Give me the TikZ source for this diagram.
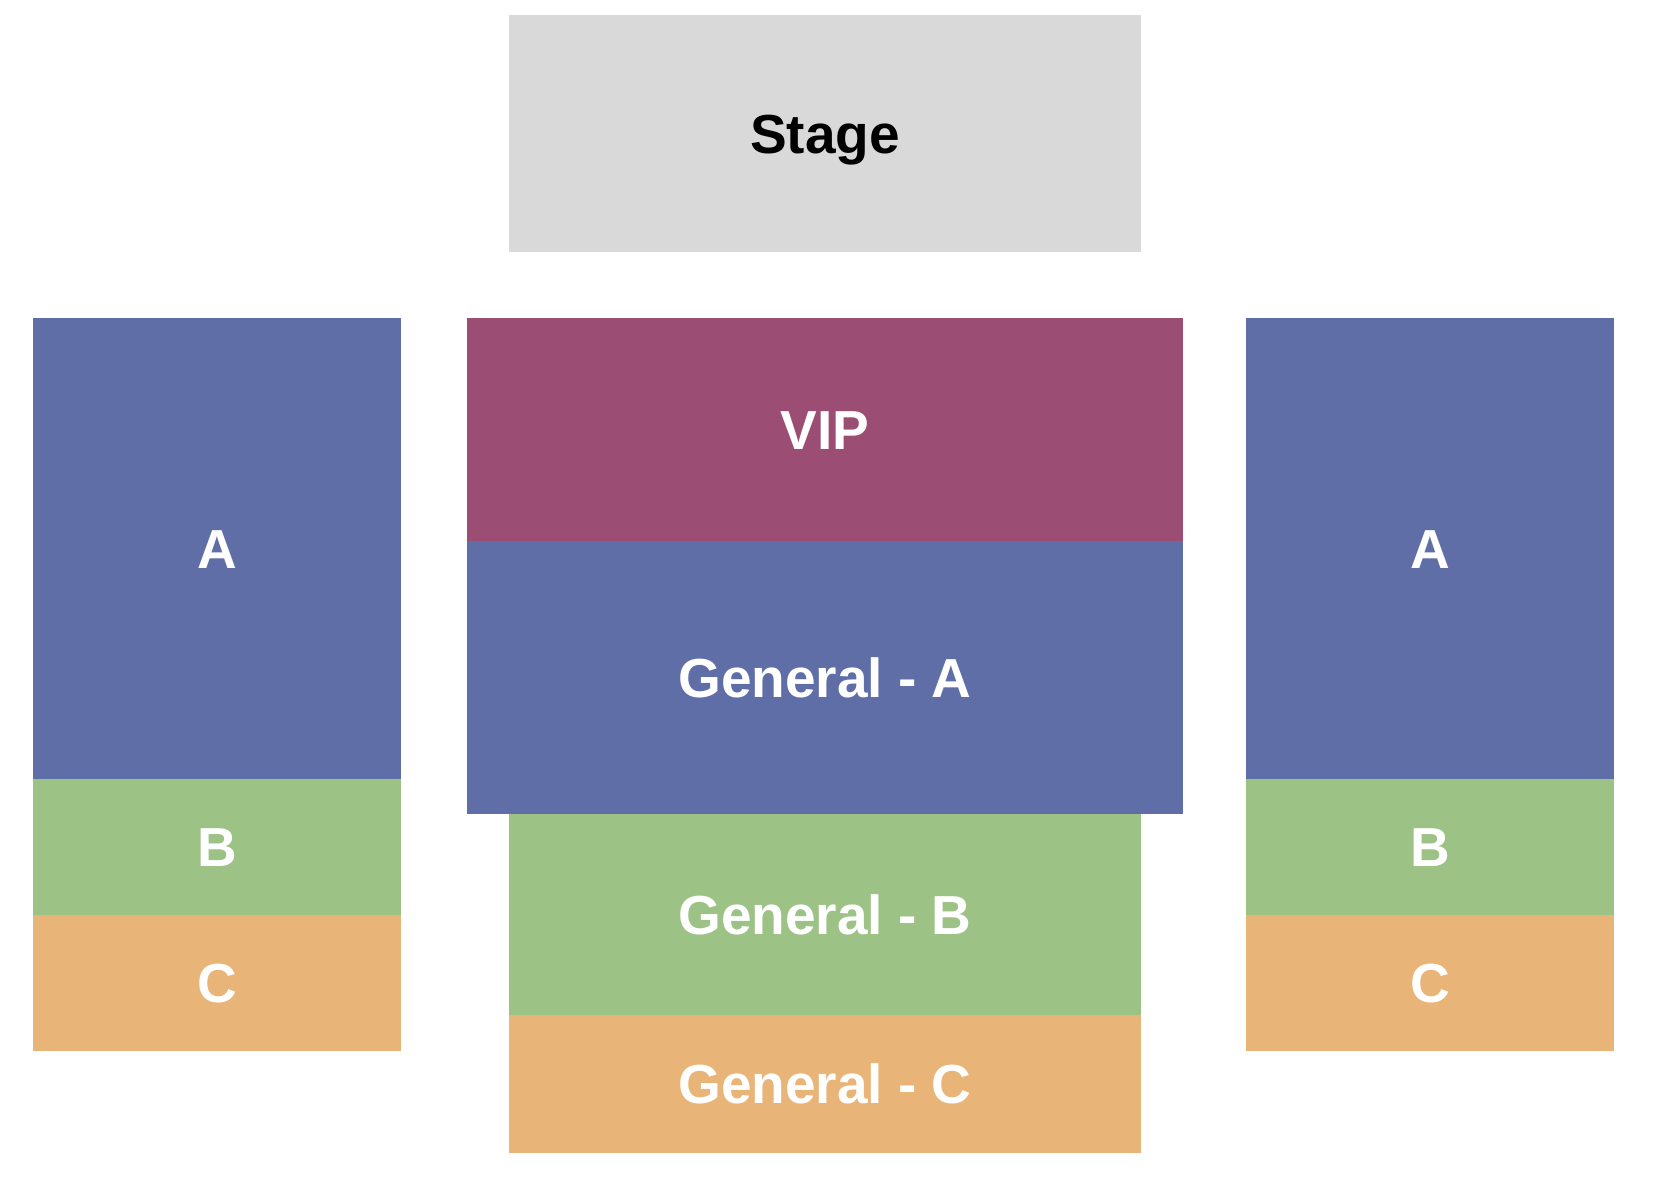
\documentclass[tikz,border=0pt]{standalone}
\usepackage{fontspec}
\setmainfont{Liberation Sans}
\usetikzlibrary{positioning}
\definecolor{stagegray}{HTML}{D9D9D9}
\definecolor{vipred}{HTML}{9B4D73}
\definecolor{secblue}{HTML}{5F6EA7}
\definecolor{secgreen}{HTML}{9DC286}
\definecolor{secorange}{HTML}{E9B477}
\tikzset{block/.style={inner sep=0pt,outer sep=0pt,text=white,
            font=\fontsize{27.5}{30}\selectfont\bfseries,text height=19.7pt,text depth=0pt},
         side/.style={block,minimum width=184pt},
         mid/.style={block,minimum width=358pt},
         back/.style={block,minimum width=316pt}}

\begin{document}
\begin{tikzpicture}[x=0.5pt,y=-0.5pt]
        \useasboundingbox (0,0) rectangle (1656,1192);

        \node[back, fill=stagegray, text=black, minimum height=118.5pt](stage)at(825,133.5){Stage};

        \node[side, fill=secblue, minimum height=230.5pt](la)at(217,548.5){A};
        \node[side, fill=secgreen, minimum height=68pt, below=0pt of la](lb){B};
        \node[side, fill=secorange, minimum height=68pt, below=0pt of lb](lc){C};

        \node[mid, fill=vipred, minimum height=111.5pt](vip)at(825,429.5){VIP};
        \node[mid, fill=secblue, minimum height=136.5pt, below=0pt of vip](ga){General - A};
        \node[back, fill=secgreen, minimum height=100.5pt](gb)at(825,914.5){General - B};
        \node[back, fill=secorange, minimum height=69pt, below=0pt of gb](gc){General - C};

        \node[side, fill=secblue, minimum height=230.5pt](ra)at(1430,548.5){A};
        \node[side, fill=secgreen, minimum height=68pt, below=0pt of ra](rb){B};
        \node[side, fill=secorange, minimum height=68pt, below=0pt of rb](rc){C};
    \end{tikzpicture}
\end{document}
